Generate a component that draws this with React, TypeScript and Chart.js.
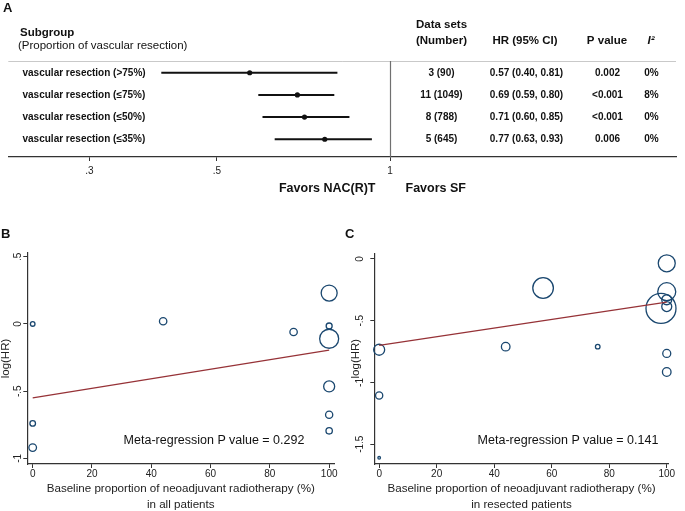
import React, { useEffect, useRef } from 'react';
import { Chart, registerables } from 'chart.js';

Chart.register(...registerables);

const FONT = '"Liberation Sans", Arial, Helvetica, sans-serif';
Chart.defaults.font.family = FONT;
Chart.defaults.color = '#1a1a1a';

// ---------- Panel A data ----------
const subgroups = [
  'vascular resection (>75%)',
  'vascular resection (≤75%)',
  'vascular resection (≤50%)',
  'vascular resection (≤35%)',
];
const dataSetsN = ['3 (90)', '11 (1049)', '8 (788)', '5 (645)'];
const hr = [0.57, 0.69, 0.71, 0.77];
const hrLow = [0.4, 0.59, 0.6, 0.63];
const hrHigh = [0.81, 0.8, 0.85, 0.93];
const pValues = ['0.002', '<0.001', '<0.001', '0.006'];
const i2Values = ['0%', '8%', '0%', '0%'];
const forestTicks = [0.3, 0.5, 1];
const forestTickLabels = ['.3', '.5', '1'];

// ---------- Panel B data ----------
const xB = [0, 0, 0, 44, 88, 100, 100, 100, 100, 100, 100];
const yB = [0.0, -0.74, -0.92, 0.02, -0.06, 0.23, -0.015, -0.11, -0.465, -0.675, -0.795];
const rB = [2.3, 2.8, 3.8, 3.7, 3.7, 8, 3, 9.5, 5.5, 3.6, 3.2];
const lineBx = [0, 100];
const lineBy = [-0.55, -0.195];
const xTicksB = [0, 20, 40, 60, 80, 100];
const yTicksB = [-1, -0.5, 0, 0.5];

// ---------- Panel C data ----------
const xC = [0, 0, 0, 44, 57, 76, 100, 100, 98, 100, 100, 100, 100];
const yC = [-0.735, -1.105, -1.61, -0.71, -0.235, -0.71, -0.035, -0.265, -0.4, -0.33, -0.385, -0.765, -0.915];
const rC = [5.5, 3.6, 1.3, 4.3, 10.3, 2.3, 8.5, 9, 15, 5, 5, 4, 4.3];
const lineCx = [0, 100];
const lineCy = [-0.7, -0.35];
const xTicksC = [0, 20, 40, 60, 80, 100];
const yTicksC = [-1.5, -1, -0.5, 0];

const NAVY = 'rgb(26,71,111)';
const MAROON = 'rgb(150,50,55)';
const AXIS = '#333';

const fmtTick = (v: number) => String(v).replace('0.', '.');

const forestTable = {
  id: 'forestTable',
  afterDraw(chart: any) {
    const { ctx, chartArea, scales } = chart;
    const xs = scales.x;
    const ys = scales.y;
    ctx.save();
    // top separator
    ctx.strokeStyle = '#c9c9c9';
    ctx.lineWidth = 1;
    ctx.beginPath();
    ctx.moveTo(chartArea.left, chartArea.top + 0.5);
    ctx.lineTo(chartArea.right, chartArea.top + 0.5);
    ctx.stroke();
    // null line
    const x1 = Math.round(xs.getPixelForValue(1)) + 0.5;
    ctx.strokeStyle = '#707070';
    ctx.lineWidth = 1.2;
    ctx.beginPath();
    ctx.moveTo(x1, chartArea.top);
    ctx.lineTo(x1, chartArea.bottom);
    ctx.stroke();

    ctx.fillStyle = '#111';
    ctx.textBaseline = 'middle';
    // left header
    ctx.textAlign = 'left';
    ctx.font = `bold 11.5px ${FONT}`;
    ctx.fillText('Subgroup', 20, 33);
    ctx.font = `11.5px ${FONT}`;
    ctx.fillText('(Proportion of vascular resection)', 18, 46);
    // column headers
    ctx.textAlign = 'center';
    ctx.font = `bold 11.5px ${FONT}`;
    ctx.fillText('Data sets', 441.5, 25);
    ctx.fillText('(Number)', 441.5, 40.5);
    ctx.fillText('HR (95% CI)', 525, 40.5);
    ctx.fillText('P value', 607, 40.5);
    ctx.font = `italic bold 11.5px ${FONT}`;
    ctx.fillText('I²', 651, 40.5);
    // rows
    ctx.font = `bold 10px ${FONT}`;
    subgroups.forEach((s, i) => {
      const py = ys.getPixelForValue(i + 1);
      ctx.textAlign = 'left';
      ctx.fillText(s, 22.5, py);
      ctx.textAlign = 'center';
      ctx.fillText(dataSetsN[i], 441.5, py);
      ctx.fillText(`${hr[i].toFixed(2)} (${hrLow[i].toFixed(2)}, ${hrHigh[i].toFixed(2)})`, 526.5, py);
      ctx.fillText(pValues[i], 607.5, py);
      ctx.fillText(i2Values[i], 651.5, py);
    });
    // favours
    ctx.font = `bold 12.5px ${FONT}`;
    ctx.textAlign = 'right';
    ctx.fillText('Favors NAC(R)T', x1 - 15, 189);
    ctx.textAlign = 'left';
    ctx.fillText('Favors SF', x1 + 15, 189);
    ctx.restore();
  },
};

function makeForest(canvas: HTMLCanvasElement) {
  const ciSets = hr.map((_, i) => ({
    data: [
      { x: hrLow[i], y: i + 1 },
      { x: hrHigh[i], y: i + 1 },
    ],
    showLine: true,
    borderColor: '#111',
    borderWidth: 2,
    pointRadius: 0,
    clip: false as any,
  }));
  return new Chart(canvas, {
    type: 'scatter',
    data: {
      datasets: [
        ...ciSets,
        {
          data: hr.map((v, i) => ({ x: v, y: i + 1 })),
          pointRadius: 2.6,
          pointStyle: 'circle',
          backgroundColor: '#111',
          borderColor: '#111',
          borderWidth: 0,
        },
      ],
    } as any,
    options: {
      responsive: false,
      animation: false,
      devicePixelRatio: 1,
      events: [],
      layout: { padding: { left: 8.3, right: 9, top: 61, bottom: 0 } },
      plugins: { legend: { display: false }, tooltip: { enabled: false } },
      scales: {
        x: {
          type: 'logarithmic',
          min: 0.2167,
          max: 3.145,
          afterBuildTicks: (s: any) => {
            s.ticks = forestTicks.map((v) => ({ value: v }));
          },
          afterFit: (s: any) => {
            s.height = 43;
          },
          border: { display: true, color: AXIS, width: 1.3 },
          grid: { display: true, drawOnChartArea: false, drawTicks: true, tickLength: 4, color: AXIS },
          ticks: {
            autoSkip: false,
            maxRotation: 0,
            padding: 4,
            font: { size: 10 },
            color: '#222',
            callback: (v: any) => {
              const idx = forestTicks.indexOf(Number(v));
              return idx >= 0 ? forestTickLabels[idx] : '';
            },
          },
        },
        y: { type: 'linear', display: false, min: 0.47, max: 4.8, reverse: true },
      },
    } as any,
    plugins: [forestTable],
  });
}

function makeBubble(
  canvas: HTMLCanvasElement,
  cfg: {
    xs: number[]; ys: number[]; rs: number[]; lx: number[]; ly: number[];
    xTicks: number[]; yTicks: number[];
    xmin: number; xmax: number; ymin: number; ymax: number;
    padLeft: number; padRight: number; padTop: number; yWidth: number;
    yTickPad: number; yTitlePad: number; title2: string;
  }
) {
  return new Chart(canvas, {
    type: 'bubble',
    data: {
      datasets: [
        {
          type: 'line',
          data: cfg.lx.map((x, i) => ({ x, y: cfg.ly[i] })),
          borderColor: MAROON,
          borderWidth: 1.2,
          pointRadius: 0,
          fill: false,
        },
        {
          type: 'bubble',
          data: cfg.xs.map((x, i) => ({ x, y: cfg.ys[i], r: cfg.rs[i] })),
          borderColor: NAVY,
          backgroundColor: 'rgba(0,0,0,0)',
          borderWidth: 1.3,
          hoverRadius: 0,
          clip: false,
        },
      ],
    } as any,
    options: {
      responsive: false,
      animation: false,
      devicePixelRatio: 1,
      events: [],
      layout: { padding: { left: cfg.padLeft, right: cfg.padRight, top: cfg.padTop, bottom: 0 } },
      plugins: { legend: { display: false }, tooltip: { enabled: false } },
      scales: {
        x: {
          type: 'linear',
          min: cfg.xmin,
          max: cfg.xmax,
          afterBuildTicks: (s: any) => {
            s.ticks = cfg.xTicks.map((v) => ({ value: v }));
          },
          afterFit: (s: any) => {
            s.height = 47;
          },
          border: { display: true, color: AXIS, width: 1.2 },
          grid: { display: true, drawOnChartArea: false, drawTicks: true, tickLength: 4, color: AXIS },
          ticks: { autoSkip: false, maxRotation: 0, padding: 0, font: { size: 10 }, color: '#222' },
          title: {
            display: true,
            text: ['Baseline proportion of neoadjuvant radiotherapy (%)', cfg.title2],
            font: { size: 11.6, lineHeight: 1.38 },
            color: '#222',
            padding: { top: 0, bottom: -2 },
          },
        },
        y: {
          type: 'linear',
          min: cfg.ymin,
          max: cfg.ymax,
          afterBuildTicks: (s: any) => {
            s.ticks = cfg.yTicks.map((v) => ({ value: v }));
          },
          afterFit: (s: any) => {
            s.width = cfg.yWidth;
          },
          border: { display: true, color: AXIS, width: 1.2 },
          grid: { display: true, drawOnChartArea: false, drawTicks: true, tickLength: 4, color: AXIS },
          ticks: {
            autoSkip: false,
            minRotation: 90,
            maxRotation: 90,
            crossAlign: 'center',
            padding: cfg.yTickPad,
            font: { size: 10 },
            color: '#222',
            callback: (v: any) => fmtTick(Number(v)),
          },
          title: {
            display: true,
            text: 'log(HR)',
            font: { size: 11.5 },
            color: '#222',
            padding: { top: cfg.yTitlePad, bottom: 0 },
          },
        },
      },
    } as any,
  });
}

const letter = (left: number, top: number): React.CSSProperties => ({
  position: 'absolute',
  left,
  top,
  font: `bold 13px ${FONT}`,
  color: '#111',
  lineHeight: '13px',
});

const annot = (cx: number, cy: number): React.CSSProperties => ({
  position: 'absolute',
  left: cx,
  top: cy,
  transform: 'translate(-50%, -50%)',
  font: `12.5px ${FONT}`,
  color: '#111',
  whiteSpace: 'nowrap',
});

export default function App() {
  const aRef = useRef<HTMLCanvasElement>(null);
  const bRef = useRef<HTMLCanvasElement>(null);
  const cRef = useRef<HTMLCanvasElement>(null);

  useEffect(() => {
    const charts = [
      makeForest(aRef.current as HTMLCanvasElement),
      makeBubble(bRef.current as HTMLCanvasElement, {
        xs: xB, ys: yB, rs: rB, lx: lineBx, ly: lineBy, xTicks: xTicksB, yTicks: yTicksB,
        xmin: -1.82, xmax: 101.7, ymin: -1.042, ymax: 0.528,
        padLeft: 0, padRight: 10, padTop: 33, yWidth: 27.3, yTickPad: -1, yTitlePad: -1,
        title2: 'in all patients',
      }),
      makeBubble(cRef.current as HTMLCanvasElement, {
        xs: xC, ys: yC, rs: rC, lx: lineCx, ly: lineCy, xTicks: xTicksC, yTicks: yTicksC,
        xmin: -1.69, xmax: 100.68, ymin: -1.66, ymax: 0.046,
        padLeft: 0, padRight: 8, padTop: 33.3, yWidth: 34.3, yTickPad: 1, yTitlePad: 9,
        title2: 'in resected patients',
      }),
    ];
    return () => charts.forEach((c) => c.destroy());
  }, []);

  return (
    <div
      style={{
        position: 'fixed',
        left: 0,
        top: 0,
        width: 685,
        height: 511,
        background: '#fff',
        overflow: 'hidden',
        fontFamily: FONT,
      }}
    >
      <canvas ref={aRef} width={685} height={200} style={{ position: 'absolute', left: 0, top: 0 }} />
      <canvas ref={bRef} width={345} height={291} style={{ position: 'absolute', left: 0, top: 220 }} />
      <canvas ref={cRef} width={345} height={291} style={{ position: 'absolute', left: 340, top: 220 }} />
      <div style={letter(3, 1)}>A</div>
      <div style={letter(1, 227)}>B</div>
      <div style={letter(345, 227)}>C</div>
      <div style={annot(214, 440)}>Meta-regression P value = 0.292</div>
      <div style={annot(568, 440)}>Meta-regression P value = 0.141</div>
    </div>
  );
}
